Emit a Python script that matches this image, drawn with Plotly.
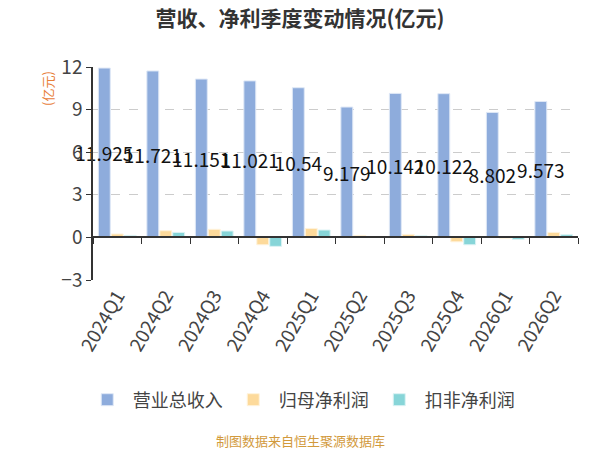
import plotly.graph_objects as go

quarters = ['2024Q1', '2024Q2', '2024Q3', '2024Q4', '2025Q1',
            '2025Q2', '2025Q3', '2025Q4', '2026Q1', '2026Q2']
revenue = [11.925, 11.721, 11.151, 11.021, 10.54, 9.179, 10.142, 10.122, 8.802, 9.573]
net_profit = [0.24, 0.47, 0.57, -0.52, 0.63, 0.14, 0.21, -0.31, -0.05, 0.35]
net_profit_ex = [0.14, 0.35, 0.45, -0.63, 0.52, 0.03, 0.11, -0.52, -0.14, 0.19]

font_cn = 'Noto Sans CJK SC'

# the page body adds an 8px offset, so lay things out 8px up/left
OFF = 8
W, H = 600, 450
L, R, T, B = 93 - OFF, 578 - OFF, 67 - OFF, 280 - OFF   # plot box in figure pixels

def px_x(x):
    return (x - OFF - L) / (R - L)

def px_y(y):
    return (B - (y - OFF)) / (B - T)

fig = go.Figure()
fig.add_trace(go.Bar(x=quarters, y=revenue, name='营业总收入',
                     marker=dict(color='#8eacdc', line=dict(color='#dfe8f6', width=1)),
                     text=[f'{v:g}' for v in revenue], textposition='inside',
                     insidetextanchor='middle', textangle=0, constraintext='none',
                     textfont=dict(color='#111111', size=19, family=font_cn),
                     cliponaxis=False))
fig.add_trace(go.Bar(x=quarters, y=net_profit, name='归母净利润',
                     marker=dict(color='#fdda9b', line=dict(color='#fff3dc', width=1))))
fig.add_trace(go.Bar(x=quarters, y=net_profit_ex, name='扣非净利润',
                     marker=dict(color='#87d5d8', line=dict(color='#dcf3f4', width=1))))
# invisible copy so the zero-positioned category axis (with boundary ticks) gets drawn
fig.add_trace(go.Bar(x=quarters, y=revenue, xaxis='x2', showlegend=False,
                     hoverinfo='skip', marker=dict(opacity=0)))

fig.update_layout(
    width=W, height=H,
    margin=dict(l=L, r=W - R, t=T, b=H - B),
    paper_bgcolor='white', plot_bgcolor='white',
    font=dict(family=font_cn, color='#444444'),
    barmode='group', bargap=0.2, bargroupgap=0.08,
    title=dict(text='<b>营收、净利季度变动情况(亿元)</b>', x=(300 - OFF) / W, xanchor='center',
               y=1 - (19 - OFF) / H, yanchor='middle', yref='container',
               font=dict(size=21, color='#333333', family=font_cn)),
    legend=dict(orientation='h', x=(265 - OFF) / W, xanchor='center',
                y=1 - (400 - OFF) / H, yref='container', yanchor='middle',
                font=dict(size=18, color='#444444'), tracegroupgap=0, itemwidth=41),
    xaxis=dict(type='category', showline=False, ticks='', tickangle=-60,
               tickfont=dict(size=19, color='#444444'), showgrid=False,
               automargin=False),
    xaxis2=dict(type='category', overlaying='x', matches='x', anchor='free', position=0.2,
                showline=True, linecolor='#333333', linewidth=1.5, ticks='outside',
                tickson='boundaries', ticklen=6, tickcolor='#333333',
                showticklabels=False, showgrid=False, automargin=False),
    yaxis=dict(range=[-3, 12], dtick=3, showline=True, linecolor='#333333', linewidth=1.5,
               ticks='outside', ticklen=5, tickcolor='#333333',
               showgrid=True, gridcolor='#cccccc', griddash='dash', zeroline=False,
               tickfont=dict(size=19, color='#444444'), automargin=False),
    annotations=[
        dict(text='(亿元)', x=px_x(47), y=px_y(89), xref='paper', yref='paper',
             showarrow=False, textangle=-90, xanchor='center', yanchor='middle',
             font=dict(size=13, color='#e8803a', family=font_cn)),
        dict(text='制图数据来自恒生聚源数据库', x=px_x(300), y=px_y(440), xref='paper',
             yref='paper', showarrow=False, xanchor='center', yanchor='middle',
             font=dict(size=13, color='#d29a3c', family=font_cn)),
    ],
)

fig.write_html("out.html")
